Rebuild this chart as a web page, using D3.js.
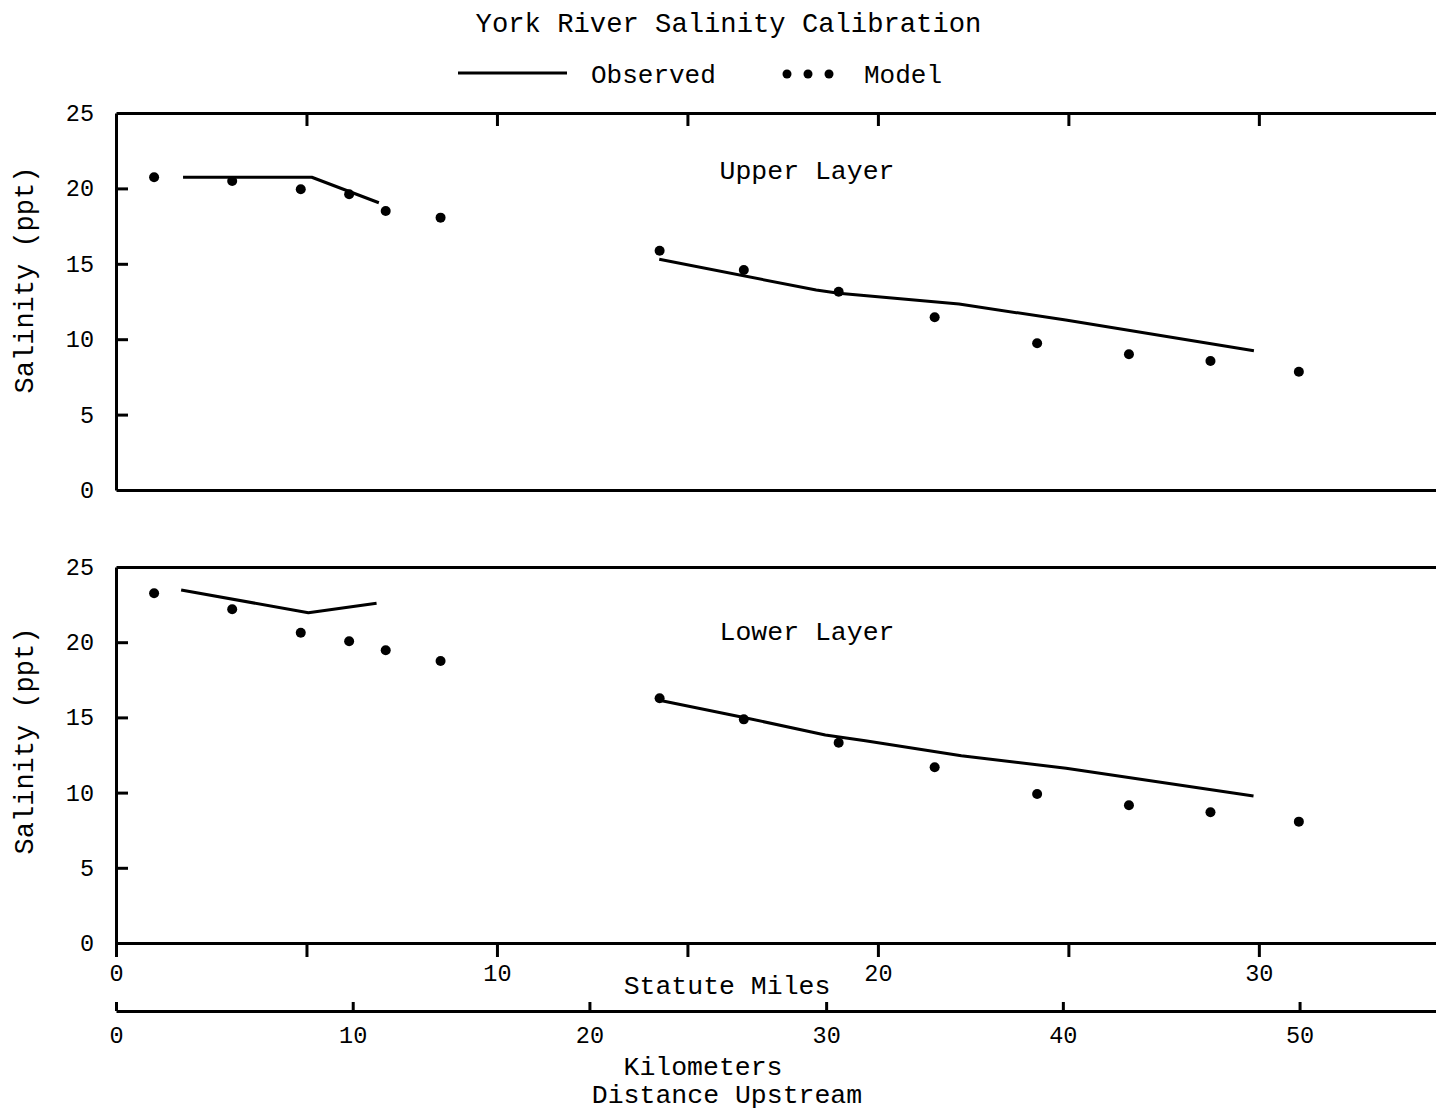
<!DOCTYPE html>
<html><head><meta charset="utf-8">
<style>body{margin:0;background:#fff}svg{display:block}</style>
</head><body>
<svg id="c" width="1436" height="1110"></svg>
<script src="https://cdn.jsdelivr.net/npm/d3@7"></script>
<script>
// ---- data (distance upstream in statute miles, salinity in ppt) ----
const modelMiles = [1.0, 3.05, 4.85, 6.12, 7.08, 8.52, 14.27, 16.48, 18.97, 21.49, 24.18, 26.59, 28.73, 31.05];
const upperModel = [20.74, 20.49, 19.94, 19.61, 18.50, 18.06, 15.87, 14.59, 13.15, 11.45, 9.73, 9.00, 8.55, 7.84];
const lowerModel = [23.25, 22.19, 20.63, 20.06, 19.46, 18.75, 16.27, 14.87, 13.32, 11.68, 9.91, 9.16, 8.69, 8.07];

const upperObsMilesA = [1.76, 5.14, 6.90];
const upperObsA      = [20.74, 20.74, 19.05];
const upperObsMilesB = [14.26, 18.38, 18.97, 22.13, 24.93, 29.87];
const upperObsB      = [15.30, 13.26, 13.04, 12.33, 11.27, 9.24];

const lowerObsMilesA = [1.71, 5.05, 6.84];
const lowerObsA      = [23.47, 21.96, 22.59];
const lowerObsMilesB = [14.23, 16.45, 18.62, 19.67, 22.19, 24.94, 29.86];
const lowerObsB      = [16.16, 15.01, 13.83, 13.45, 12.45, 11.62, 9.77];

const salinityTicks = [0, 5, 10, 15, 20, 25];
const mileTicks = [0, 5, 10, 15, 20, 25, 30];
const mileLabels = [0, 10, 20, 30];
const kmTicks = [0, 10, 20, 30, 40, 50];
const KM_PER_MILE = 1.609344;

// ---- layout ----
const svg = d3.select('#c');
const FONT = "'Liberation Mono', 'DejaVu Sans Mono', monospace";
const TICK_FS = 23.5;
const left = 116, right = 1436;
const x = d3.scaleLinear().domain([0, 34.65]).range([left, right]);
const xKm = d3.scaleLinear().domain([0, 34.65 * KM_PER_MILE]).range([left, right]);

function styleAxis(g, size) {
  g.attr('font-family', FONT).attr('font-size', size);
  g.selectAll('path.domain').attr('stroke', '#000').attr('stroke-width', 3);
  g.selectAll('.tick line').attr('stroke', '#000').attr('stroke-width', 3);
  g.selectAll('.tick text').attr('fill', '#000');
}

// title & legend
svg.append('text').attr('x', 728.5).attr('y', 32).attr('text-anchor', 'middle')
  .attr('font-family', FONT).attr('font-size', 27.2).text('York River Salinity Calibration');
svg.append('line').attr('x1', 458).attr('x2', 567).attr('y1', 73).attr('y2', 73)
  .attr('stroke', '#000').attr('stroke-width', 3);
svg.append('text').attr('x', 591).attr('y', 82.5).attr('font-family', FONT).attr('font-size', 26).text('Observed');
svg.selectAll('circle.leg').data([787, 808, 829]).join('circle').attr('class', 'leg')
  .attr('cx', d => d).attr('cy', 74).attr('r', 4.5).attr('fill', '#000');
svg.append('text').attr('x', 864).attr('y', 82.5).attr('font-family', FONT).attr('font-size', 26).text('Model');

const panels = [
  {top: 113, bottom: 490, label: 'Upper Layer', labelY: 179, titleY: 280,
   model: upperModel, obs: [[upperObsMilesA, upperObsA], [upperObsMilesB, upperObsB]], topTicks: true},
  {top: 567, bottom: 943, label: 'Lower Layer', labelY: 640, titleY: 741,
   model: lowerModel, obs: [[lowerObsMilesA, lowerObsA], [lowerObsMilesB, lowerObsB]], topTicks: false}
];

const line = d3.line().x(d => x(d[0])).y(d => d[1]);

panels.forEach((p, i) => {
  const y = d3.scaleLinear().domain([0, 25]).range([p.bottom, p.top]);

  // top line
  const gTop = svg.append('g').attr('transform', `translate(0,${p.top})`)
    .call(d3.axisTop(x).tickValues(p.topTicks ? mileTicks.slice(1) : []).tickSize(-13).tickSizeOuter(0).tickFormat(''));
  styleAxis(gTop, TICK_FS);

  // bottom line
  if (i === 0) {
    const gB = svg.append('g').attr('transform', `translate(0,${p.bottom})`)
      .call(d3.axisBottom(x).tickValues([]).tickSizeOuter(0));
    styleAxis(gB, TICK_FS);
  } else {
    const gB = svg.append('g').attr('transform', `translate(0,${p.bottom})`)
      .call(d3.axisBottom(x).tickValues(mileTicks).tickSize(14).tickSizeOuter(0).tickPadding(7)
        .tickFormat(d => mileLabels.includes(d) ? d : ''));
    styleAxis(gB, TICK_FS);
  }

  // left axis
  const gL = svg.append('g').attr('transform', `translate(${left},0)`)
    .call(d3.axisLeft(y).tickValues(salinityTicks).tickSize(-12).tickSizeOuter(0).tickPadding(22));
  styleAxis(gL, TICK_FS);
  gL.selectAll('.tick').filter(d => d === 0 || d === 25).select('line').remove();

  // y title
  svg.append('text').attr('transform', `translate(33,${p.titleY}) rotate(-90)`)
    .attr('text-anchor', 'middle').attr('font-family', FONT).attr('font-size', 27).text('Salinity (ppt)');

  // layer label
  svg.append('text').attr('x', 807).attr('y', p.labelY).attr('text-anchor', 'middle')
    .attr('font-family', FONT).attr('font-size', 26.5).text(p.label);

  // observed lines
  p.obs.forEach(([ms, vs]) => {
    svg.append('path').attr('d', line(ms.map((m, k) => [m, y(vs[k])])))
      .attr('fill', 'none').attr('stroke', '#000').attr('stroke-width', 3)
      .attr('stroke-linejoin', 'round');
  });

  // model dots
  svg.append('g').selectAll('circle').data(modelMiles.map((m, k) => [m, p.model[k]])).join('circle')
    .attr('cx', d => x(d[0])).attr('cy', d => y(d[1])).attr('r', 5).attr('fill', '#000');
});

// kilometre axis
const gKm = svg.append('g').attr('transform', 'translate(0,1011)')
  .call(d3.axisBottom(xKm).tickValues(kmTicks).tickSize(-9).tickSizeOuter(0).tickPadding(15));
styleAxis(gKm, TICK_FS);

// axis titles
svg.append('text').attr('x', 727).attr('y', 994).attr('text-anchor', 'middle')
  .attr('font-family', FONT).attr('font-size', 26.5).text('Statute Miles');
svg.append('text').attr('x', 703).attr('y', 1075).attr('text-anchor', 'middle')
  .attr('font-family', FONT).attr('font-size', 26.5).text('Kilometers');
svg.append('text').attr('x', 727).attr('y', 1103).attr('text-anchor', 'middle')
  .attr('font-family', FONT).attr('font-size', 26.5).text('Distance Upstream');
</script>
</body></html>
